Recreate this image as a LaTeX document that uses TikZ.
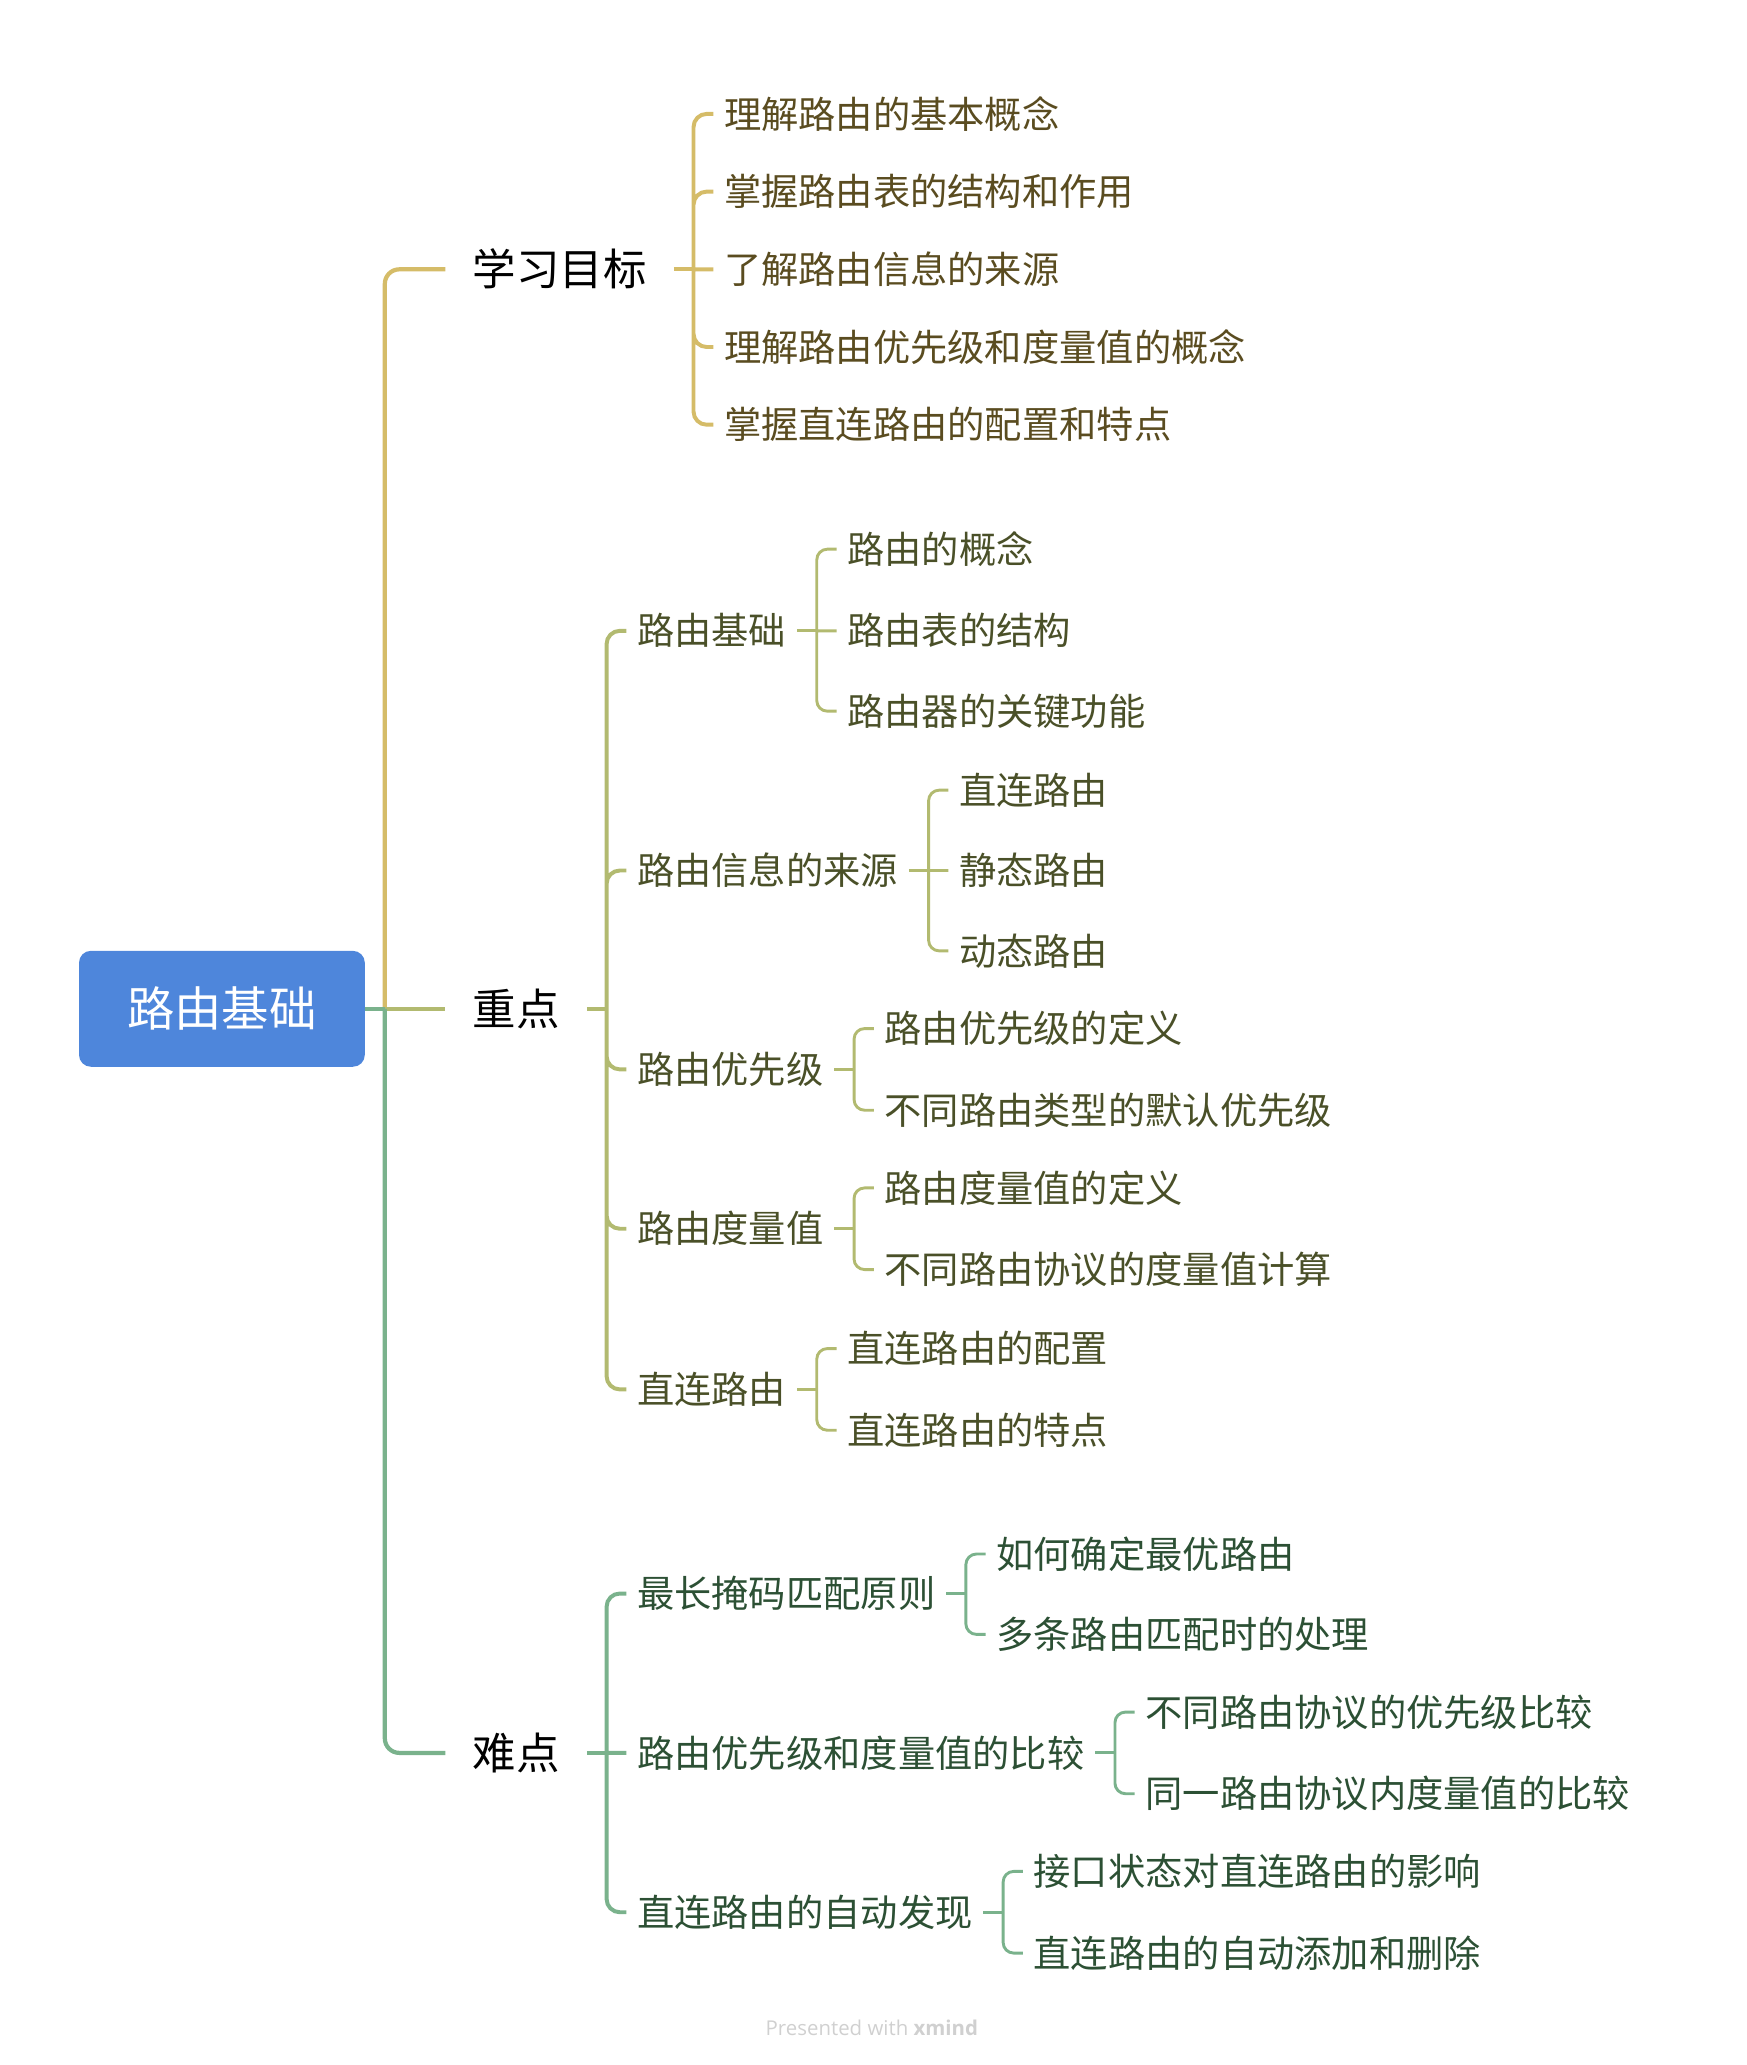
\documentclass[tikz,border=0pt]{standalone}
\usepackage{fontspec}
\setmainfont{Noto Sans CJK SC}
\newfontfamily\creditfont{Open Sans}
\usetikzlibrary{positioning}

\definecolor{rootblue}{HTML}{4E86DB}
\definecolor{goldln}{HTML}{D5BC68}
\definecolor{goldtx}{HTML}{5A4C20}
\definecolor{olvln}{HTML}{B2BA70}
\definecolor{olvtx}{HTML}{4A5028}
\definecolor{grnln}{HTML}{7AB28C}
\definecolor{grntx}{HTML}{2C5034}
\definecolor{creditgray}{HTML}{D0D0D0}

\tikzset{
  rootbox/.style={fill=rootblue, text=white, rounded corners=9pt, minimum width=217pt, minimum height=88pt,
    text height=30.5pt, text depth=3pt, font=\fontsize{36}{40}\selectfont},
  topic/.style={anchor=west, inner xsep=20.5pt, inner ysep=0pt, text height=28pt, text depth=3pt,
    font=\fontsize{33}{36}\selectfont},
  item/.style={anchor=west, inner xsep=8pt, inner ysep=0pt, text height=24pt, text depth=2.5pt,
    font=\fontsize{28.3}{30}\selectfont},
  ln1/.style={line width=3.2pt, rounded corners=11pt},
  ln2/.style={line width=3pt, rounded corners=10pt},
  ln3/.style={line width=2.2pt, rounded corners=8pt},
  credit/.style={text=creditgray, font=\creditfont\fontsize{15.5}{18}\selectfont},
}

\begin{document}
\begin{tikzpicture}[x=1pt, y=1pt]
    \useasboundingbox (0,0) rectangle (1326,-1568);

    \node[rootbox] (root) at (168.5,-766) {路由基础};
    \node[topic, right=61pt of root, yshift=561.5pt] (goal) {学习目标};
    \node[topic, right=61pt of root] (key) {重点};
    \node[topic, right=61pt of root, yshift=-565pt] (hard) {难点};

    % 学习目标
    \node[item, text=goldtx, right=30pt of goal, yshift=118pt] (goal1) {理解路由的基本概念};
    \node[item, text=goldtx, right=30pt of goal, yshift=59pt] (goal2) {掌握路由表的结构和作用};
    \node[item, text=goldtx, right=30pt of goal] (goal3) {了解路由信息的来源};
    \node[item, text=goldtx, right=30pt of goal, yshift=-59pt] (goal4) {理解路由优先级和度量值的概念};
    \node[item, text=goldtx, right=30pt of goal, yshift=-118pt] (goal5) {掌握直连路由的配置和特点};

    % 重点
    \node[item, text=olvtx, right=30pt of key, yshift=287pt] (base) {路由基础};
    \node[item, text=olvtx, right=30pt of key, yshift=105pt] (src) {路由信息的来源};
    \node[item, text=olvtx, right=30pt of key, yshift=-46pt] (prio) {路由优先级};
    \node[item, text=olvtx, right=30pt of key, yshift=-167pt] (metric) {路由度量值};
    \node[item, text=olvtx, right=30pt of key, yshift=-289pt] (direct) {直连路由};

    \node[item, text=olvtx, right=30pt of base, yshift=62pt] (base1) {路由的概念};
    \node[item, text=olvtx, right=30pt of base] (base2) {路由表的结构};
    \node[item, text=olvtx, right=30pt of base, yshift=-61pt] (base3) {路由器的关键功能};
    \node[item, text=olvtx, right=30pt of src, yshift=61pt] (src1) {直连路由};
    \node[item, text=olvtx, right=30pt of src] (src2) {静态路由};
    \node[item, text=olvtx, right=30pt of src, yshift=-61pt] (src3) {动态路由};
    \node[item, text=olvtx, right=30pt of prio, yshift=31pt] (prio1) {路由优先级的定义};
    \node[item, text=olvtx, right=30pt of prio, yshift=-31pt] (prio2) {不同路由类型的默认优先级};
    \node[item, text=olvtx, right=30pt of metric, yshift=31pt] (metric1) {路由度量值的定义};
    \node[item, text=olvtx, right=30pt of metric, yshift=-31pt] (metric2) {不同路由协议的度量值计算};
    \node[item, text=olvtx, right=30pt of direct, yshift=31pt] (direct1) {直连路由的配置};
    \node[item, text=olvtx, right=30pt of direct, yshift=-31pt] (direct2) {直连路由的特点};

    % 难点
    \node[item, text=grntx, right=30pt of hard, yshift=121pt] (lpm) {最长掩码匹配原则};
    \node[item, text=grntx, right=30pt of hard] (cmp) {路由优先级和度量值的比较};
    \node[item, text=grntx, right=30pt of hard, yshift=-121pt] (auto) {直连路由的自动发现};

    \node[item, text=grntx, right=30pt of lpm, yshift=30pt] (lpm1) {如何确定最优路由};
    \node[item, text=grntx, right=30pt of lpm, yshift=-31pt] (lpm2) {多条路由匹配时的处理};
    \node[item, text=grntx, right=30pt of cmp, yshift=31pt] (cmp1) {不同路由协议的优先级比较};
    \node[item, text=grntx, right=30pt of cmp, yshift=-31pt] (cmp2) {同一路由协议内度量值的比较};
    \node[item, text=grntx, right=30pt of auto, yshift=31pt] (auto1) {接口状态对直连路由的影响};
    \node[item, text=grntx, right=30pt of auto, yshift=-31pt] (auto2) {直连路由的自动添加和删除};

    % trunk
    \coordinate[right=15pt of root] (trunk);
    \draw[ln1, goldln] (trunk) |- (goal.west);
    \draw[ln1, olvln] (root.east) -- (key.west);
    \draw[ln1, grnln] (trunk) |- (hard.west);
    \draw[ln1, grnln] (root.east) -- (trunk);

    % brackets of the main topics
    \draw[ln2, goldln] (goal.east) -- ++(15pt,0) coordinate (goal-j);
    \draw[ln2, goldln] (goal-j) |- (goal1.west) (goal-j) |- (goal2.west) (goal-j) -- (goal3.west)
        (goal-j) |- (goal4.west) (goal-j) |- (goal5.west);
    \draw[ln2, olvln] (key.east) -- ++(15pt,0) coordinate (key-j);
    \draw[ln2, olvln] (key-j) |- (base.west) (key-j) |- (src.west) (key-j) |- (prio.west)
        (key-j) |- (metric.west) (key-j) |- (direct.west);
    \draw[ln2, grnln] (hard.east) -- ++(15pt,0) coordinate (hard-j);
    \draw[ln2, grnln] (hard-j) |- (lpm.west) (hard-j) -- (cmp.west) (hard-j) |- (auto.west);

    % brackets of the subtopics
    \foreach \p in {base, src} {
        \draw[ln3, olvln] (\p.east) -- ++(15pt,0) coordinate (\p-j);
        \draw[ln3, olvln] (\p-j) |- (\p1.west) (\p-j) -- (\p2.west) (\p-j) |- (\p3.west);
    }
    \foreach \p/\c in {prio/olvln, metric/olvln, direct/olvln, lpm/grnln, cmp/grnln, auto/grnln} {
        \draw[ln3, \c] (\p.east) -- ++(15pt,0) coordinate (\p-j);
        \draw[ln3, \c] (\p-j) |- (\p1.west) (\p-j) |- (\p2.west);
    }

    \node[credit] (note) at (662,-1540) {Presented with {\bfseries xmind}};
\end{tikzpicture}
\end{document}
